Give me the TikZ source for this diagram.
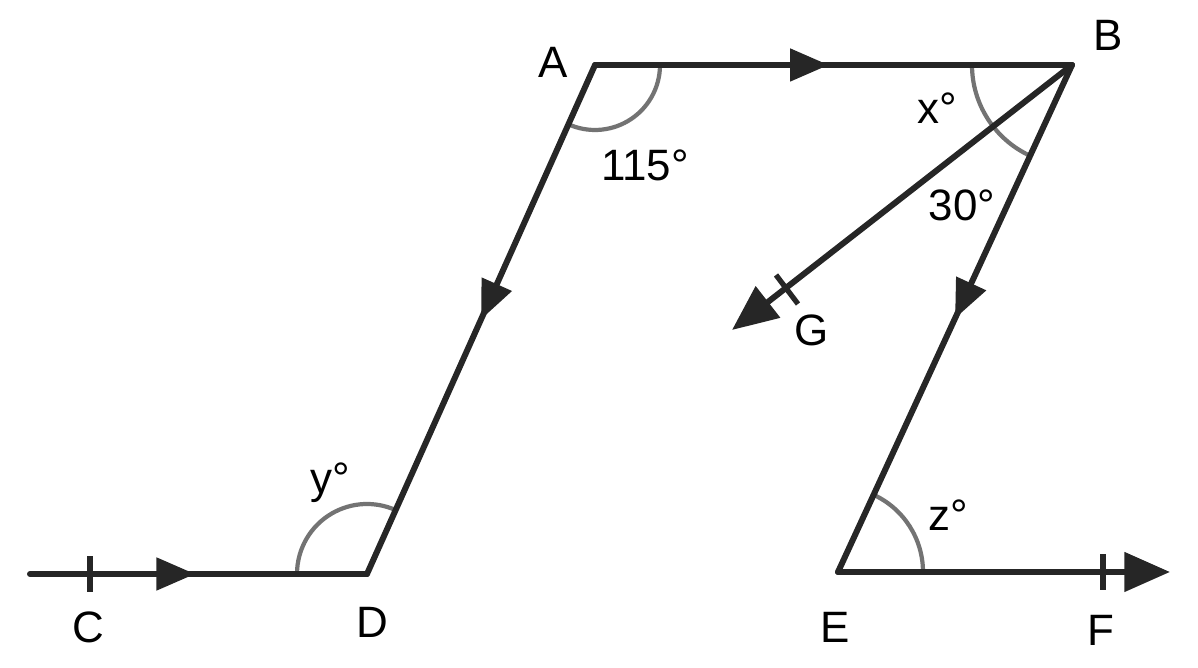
\documentclass[tikz,border=0pt]{standalone}
\usepackage{fontspec}
\setmainfont{Liberation Sans}
\usetikzlibrary{arrows.meta,decorations.markings,calc}
\begin{document}
\begin{tikzpicture}[x=0.02cm,y=0.02cm,
  seg/.style={line width=3.4pt,color=black!85,line cap=round},
  midarrow/.style={postaction={decorate},decoration={markings,mark=at position #1 with {\arrow{Triangle[length=22pt,width=18pt]}}}},
  angarc/.style={line width=2.4pt,color=black!55},
  tick/.style={line width=3pt,color=black!85},
  lab/.style={font=\fontsize{25}{25}\selectfont,inner sep=0pt}]
\useasboundingbox (0,0) rectangle (1198,668);
\coordinate (A) at (595,603);
\coordinate (B) at (1072,603);
\coordinate (D) at (367,94);
\coordinate (E) at (838,96);
\coordinate (C0) at (30,94);
\coordinate (F0) at (1170,96);
\coordinate (G0) at (732,338);
% angle arcs
\draw[angarc] ($(A)+(65,0)$) arc[start angle=0,end angle=-114.1,radius=65];
\draw[angarc] ($(B)+(-100,0)$) arc[start angle=180,end angle=245.2,radius=100];
\draw[angarc] ($(D)+(-70,0)$) arc[start angle=180,end angle=65.9,radius=70];
\draw[angarc] ($(E)+(85,0)$) arc[start angle=0,end angle=65.2,radius=85];
% lines
\draw[seg,midarrow=0.49] (A) -- (B);
\draw[seg,midarrow=0.5] (A) -- (D);
\draw[seg,midarrow=0.5] (B) -- (E);
\draw[seg,midarrow=0.49] (C0) -- (D);
\draw[seg,-{Triangle[length=26pt,width=22pt]}] (E) -- (F0);
\draw[seg,-{Triangle[length=26pt,width=22pt]}] (B) -- (G0);
% ticks
\draw[tick] (90,76) -- (90,112);
\draw[tick] (1103,78) -- (1103,114);
\draw[tick] (776,393) -- (798,364);
% labels
\node[lab] (lA) at (553,606) {A};
\node[lab] (lB) at (1108,633) {B};
\node[lab] (lx) at (937,560) {x°};
\node[lab] (l30) at (962,463) {30°};
\node[lab] (l115) at (645,503) {115°};
\node[lab] (lG) at (812,338) {G};
\node[lab] (ly) at (330,185) {y°};
\node[lab] (lz) at (948,153) {z°};
\node[lab] (lC) at (88,41) {C};
\node[lab] (lD) at (372,46) {D};
\node[lab] (lE) at (835,41) {E};
\node[lab] (lF) at (1101,38) {F};
\end{tikzpicture}
\end{document}
